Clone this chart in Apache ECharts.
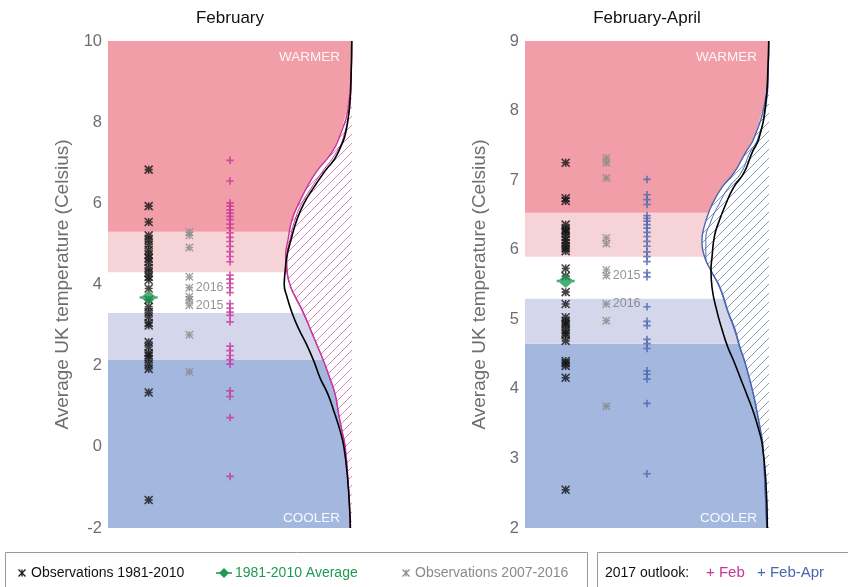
<!DOCTYPE html>
<html><head><meta charset="utf-8">
<script src="https://cdn.jsdelivr.net/npm/echarts@6/dist/echarts.min.js"></script>
<style>html,body{margin:0;padding:0;background:#fff}#c{width:848px;height:587px}</style>
</head><body><div id="c"></div>
<script>
// ---------- DATA ----------
const columns = ['', 'Observations 1981-2010', 'Observations 2007-2016', '2017 outlook', '', '', ''];
const obsYears = [2007, 2008, 2009, 2010, 2011, 2012, 2013, 2014, 2015, 2016];
const labelledYears = [2015, 2016];

// February
const febTicks = { min: -2, max: 10, interval: 2 };
const febBands = [-2, 2.15, 3.3, 4.3, 5.3, 10];
const febObs8110 = [6.83, 5.93, 5.54, 5.21, 5.10, 4.98, 4.85, 4.74, 4.65, 4.55, 4.41, 4.30, 4.19, 4.11, 3.90,
  3.62, 3.45, 3.32, 3.20, 3.05, 2.99, 2.58, 2.46, 2.31, 2.25, 2.17, 2.04, 1.92, 1.34, -1.31];
const febAverage = 3.68;
const febObs0716 = [4.91, 4.19, 3.70, 1.85, 5.21, 3.62, 2.76, 5.29, 3.49, 3.92];
const febOutlook = [7.06, 6.55, 6.01, 5.93, 5.84, 5.76, 5.68, 5.60, 5.49, 5.39, 5.27, 5.16, 5.06, 4.94, 4.81,
  4.69, 4.56, 4.23, 4.13, 4.03, 3.92, 3.80, 3.53, 3.42, 3.32, 3.24, 3.08, 2.48, 2.37, 2.25, 2.15, 2.04,
  1.38, 1.24, 0.72, -0.73];
// [temperature, density]
const febPdfClim = [[10,0.001],[9.0,0.004],[8.0,0.016],[7.2,0.055],[6.8,0.099],[6.4,0.140],[6.0,0.177],
  [5.6,0.203],[5.1,0.225],[4.7,0.240],[4.3,0.247],[4.0,0.250],[3.7,0.240],[3.3,0.221],[2.9,0.196],
  [2.5,0.166],[2.1,0.140],[1.7,0.118],[1.3,0.089],[0.8,0.063],[0.4,0.044],[0.0,0.030],[-0.8,0.016],
  [-1.6,0.008],[-2,0.006]];
const febPdfOutlook = [[10,0.001],[9.3,0.003],[8.45,0.012],[7.6,0.048],[7.2,0.080],[6.8,0.129],[6.4,0.166],
  [6.0,0.196],[5.6,0.221],[5.1,0.236],[4.7,0.245],[4.3,0.240],[3.9,0.224],[3.7,0.210],[3.3,0.180],
  [2.9,0.154],[2.5,0.129],[2.1,0.104],[1.7,0.082],[1.3,0.062],[0.8,0.049],[0.4,0.037],[0.0,0.025],
  [-0.8,0.015],[-2,0.006]];
const febPdfOutlook2 = [[10,0.001],[9.3,0.002],[8.45,0.008],[7.6,0.033],[7.2,0.063],[6.8,0.107],[6.4,0.148],
  [6.0,0.185],[5.6,0.210],[5.1,0.229],[4.7,0.240],[4.3,0.238],[3.9,0.224],[3.7,0.208],[3.3,0.178],
  [2.9,0.153],[2.5,0.128],[2.1,0.104],[1.7,0.083],[1.3,0.063],[0.8,0.049],[0.4,0.037],[0.0,0.026],
  [-0.8,0.015],[-2,0.006]];

// February-April
const aprTicks = { min: 2, max: 9, interval: 1 };
const aprBands = [2, 4.65, 5.3, 5.9, 6.53, 9];
const aprObs8110 = [7.25, 6.74, 6.70, 6.36, 6.30, 6.27, 6.24, 6.18, 6.14, 6.10, 6.05, 6.02, 5.98, 5.73, 5.62,
  5.39, 5.22, 5.03, 4.97, 4.94, 4.91, 4.84, 4.80, 4.77, 4.69, 4.40, 4.37, 4.33, 4.16, 2.55];
const aprAverage = 5.55;
const aprObs0716 = [7.32, 6.09, 6.17, 4.98, 7.25, 7.03, 3.75, 5.71, 5.63, 5.22];
const aprOutlook = [7.01, 6.79, 6.72, 6.65, 6.49, 6.45, 6.41, 6.36, 6.31, 6.25, 6.19, 6.12, 6.05, 5.97, 5.90,
  5.83, 5.67, 5.61, 5.18, 4.97, 4.91, 4.71, 4.65, 4.58, 4.26, 4.21, 4.14, 3.79, 2.78];
const aprPdfClim = [[9,0.001],[8.6,0.004],[8.1,0.012],[7.6,0.037],[7.4,0.062],[7.1,0.093],[6.9,0.130],
  [6.65,0.160],[6.4,0.185],[6.2,0.201],[5.9,0.210],[5.7,0.214],[5.45,0.210],[5.1,0.191],[4.85,0.173],
  [4.6,0.152],[4.4,0.130],[4.15,0.105],[3.9,0.080],[3.65,0.056],[3.4,0.037],[3.2,0.025],[2.7,0.012],[2,0.006]];
const aprPdfOutlook = [[9,0.001],[8.6,0.003],[8.1,0.016],[7.6,0.056],[7.4,0.086],[7.1,0.130],[6.9,0.173],
  [6.65,0.210],[6.4,0.234],[6.25,0.244],[6.15,0.247],[5.9,0.238],[5.7,0.214],[5.45,0.180],[5.1,0.150],
  [4.85,0.125],[4.6,0.107],[4.4,0.090],[4.15,0.072],[3.9,0.056],[3.65,0.043],[3.4,0.031],[3.2,0.023],
  [2.7,0.016],[2,0.008]];
const aprPdfOutlook2 = [[9,0.001],[8.6,0.002],[8.1,0.010],[7.6,0.041],[7.4,0.070],[7.1,0.104],[6.9,0.148],
  [6.65,0.185],[6.4,0.215],[6.15,0.233],[5.9,0.233],[5.7,0.214],[5.45,0.182],[5.1,0.152],[4.85,0.128],
  [4.6,0.109],[4.4,0.091],[4.15,0.073],[3.9,0.057],[3.65,0.044],[3.4,0.032],[3.2,0.023],[2.7,0.016],[2,0.008]];

const panelTitles = ['February', 'February-April'];
const yAxisName = 'Average UK temperature (Celsius)';
const legendTexts = ['Observations 1981-2010', '1981-2010 Average', 'Observations 2007-2016', '2017 outlook:', 'Feb', 'Feb-Apr'];

// ---------- STYLE ----------
const bandColors = ['#a3b7df', '#d4d7ec', '#ffffff', '#f6d3d6', '#f19ea8'];
const C_BLACK = '#151515', C_GREY = '#8a8a8a', C_GREEN = '#1f9a52', C_MAG = '#c8359b', C_BLUE = '#4a66b0';
const STAR = 'path://M0,0L10,10M10,0L0,10M5,0L5,10M0,5L10,5';
const PLUS = 'path://M5,0L5,10M0,5L10,5';
const DIAM = 'path://M8,0L15,7L8,14L1,7ZM0,5.8L16,5.8L16,8.2L0,8.2Z';
const F = 'Liberation Sans';

function hatch(color) {
  const s = 9;
  const c = document.createElement('canvas'); c.width = s; c.height = s;
  const g = c.getContext('2d');
  g.fillStyle = '#fff'; g.fillRect(0, 0, s, s);
  g.strokeStyle = color; g.lineWidth = 0.9;
  g.beginPath();
  g.moveTo(-1, s + 1); g.lineTo(s + 1, -1);
  g.moveTo(-s - 1, 1); g.lineTo(1, -s - 1);
  g.moveTo(s - 1, 2 * s + 1); g.lineTo(2 * s + 1, s - 1);
  g.stroke();
  return { image: c, repeat: 'repeat' };
}

const grids = [
  { left: 108, top: 41, width: 244, height: 487 },
  { left: 525, top: 41, width: 244, height: 487 }
];

function panelSeries(p, d) {
  const xc = 2 * p, xd = 2 * p + 1, yi = p;
  const bandData = [];
  for (let i = 0; i < bandColors.length; i++) {
    const a = { yAxis: d.bands[i], itemStyle: { color: bandColors[i], opacity: 1 } };
    if (i === bandColors.length - 1) {
      a.name = 'WARMER';
      a.label = { show: true, position: 'insideTopRight', distance: 0, padding: [9, 12, 0, 0], color: 'rgba(255,255,255,0.92)', fontSize: 13.5, fontFamily: F };
    } else if (i === 0) {
      a.name = 'COOLER';
      a.label = { show: true, position: 'insideBottomRight', distance: 0, padding: [0, 12, 3, 0], color: 'rgba(255,255,255,0.92)', fontSize: 13.5, fontFamily: F };
    }
    bandData.push([a, { yAxis: d.bands[i + 1] }]);
  }
  const pdfXY = arr => arr.map(q => [q[1], q[0]]);
  return [
    { type: 'scatter', xAxisIndex: xc, yAxisIndex: yi, data: [], silent: true,
      markArea: { silent: true, label: { show: false }, data: bandData } },
    { type: 'custom', xAxisIndex: xd, yAxisIndex: yi, z: 2, silent: true, data: [[0, d.pdfOut[0][0]]],
      renderItem: function (params, api) {
        const pts = d.pdfOut.map(q => api.coord([q[1], q[0]]));
        const top = api.coord([0, d.pdfOut[0][0]]);
        const bot = api.coord([0, d.pdfOut[d.pdfOut.length - 1][0]]);
        return { type: 'polygon', shape: { points: [top].concat(pts, [bot]) }, style: { fill: d.hatch, stroke: null } };
      } },
    { type: 'line', xAxisIndex: xd, yAxisIndex: yi, z: 3, silent: true, data: pdfXY(d.pdfOut2), smooth: true,
      showSymbol: false, lineStyle: { color: d.color, width: 1 } },
    { type: 'line', xAxisIndex: xd, yAxisIndex: yi, z: 3, silent: true, data: pdfXY(d.pdfOut), smooth: true,
      showSymbol: false, lineStyle: { color: d.color, width: 1.4 } },
    { type: 'line', xAxisIndex: xd, yAxisIndex: yi, z: 3, silent: true, data: pdfXY(d.pdfClim), smooth: true,
      showSymbol: false, lineStyle: { color: '#000', width: 1.6 } },
    { type: 'scatter', xAxisIndex: xc, yAxisIndex: yi, z: 4, silent: true, symbol: STAR, symbolSize: 8,
      itemStyle: { color: 'transparent', borderColor: C_BLACK, borderWidth: 1.6 },
      data: d.obs.map(v => [1, v]) },
    { type: 'scatter', xAxisIndex: xc, yAxisIndex: yi, z: 4, silent: true, symbol: STAR, symbolSize: 7.5,
      itemStyle: { color: 'transparent', borderColor: C_GREY, borderWidth: 1.3 },
      data: d.obsRecent.map((v, i) => ({
        value: [2, v],
        label: labelledYears.indexOf(obsYears[i]) >= 0
          ? { show: true, formatter: String(obsYears[i]), position: 'right', distance: 2, color: '#7a7a7a', fontSize: 12.5, fontFamily: F }
          : { show: false }
      })) },
    { type: 'scatter', xAxisIndex: xc, yAxisIndex: yi, z: 4, silent: true, symbol: PLUS, symbolSize: 7.5,
      itemStyle: { color: 'transparent', borderColor: d.color, borderWidth: 1.7 },
      data: d.outlook.map(v => [3, v]) },
    { type: 'scatter', xAxisIndex: xc, yAxisIndex: yi, z: 5, silent: true, symbol: DIAM, symbolSize: [18, 14],
      itemStyle: { color: C_GREEN },
      data: [[1, d.avg]] }
  ];
}

const panels = [
  { bands: febBands, obs: febObs8110, avg: febAverage, obsRecent: febObs0716, outlook: febOutlook,
    pdfClim: febPdfClim, pdfOut: febPdfOutlook, pdfOut2: febPdfOutlook2, color: C_MAG, hatch: hatch('#cf7db0'), ticks: febTicks },
  { bands: aprBands, obs: aprObs8110, avg: aprAverage, obsRecent: aprObs0716, outlook: aprOutlook,
    pdfClim: aprPdfClim, pdfOut: aprPdfOutlook, pdfOut2: aprPdfOutlook2, color: C_BLUE, hatch: hatch('#8592ad'), ticks: aprTicks }
];

const xAxes = [], yAxes = [];
let series = [];
panels.forEach((d, p) => {
  xAxes.push({ gridIndex: p, type: 'category', data: columns, boundaryGap: false, show: false });
  xAxes.push({ gridIndex: p, type: 'value', inverse: true, min: 0, max: 0.9, show: false });
  yAxes.push({ gridIndex: p, type: 'value', min: d.ticks.min, max: d.ticks.max, interval: d.ticks.interval,
    axisLine: { show: false }, axisTick: { show: false }, splitLine: { show: false },
    axisLabel: { color: '#6e6e6e', fontSize: 16.5, margin: 6, fontFamily: F },
    name: yAxisName, nameLocation: 'middle', nameRotate: 90, nameGap: 36,
    nameTextStyle: { color: '#6e6e6e', fontSize: 19, fontFamily: F } });
  series = series.concat(panelSeries(p, d));
});

function starMark(cx, cy, r, color, lw) {
  return [
    { type: 'line', shape: { x1: cx - r, y1: cy - r, x2: cx + r, y2: cy + r }, style: { stroke: color, lineWidth: lw } },
    { type: 'line', shape: { x1: cx + r, y1: cy - r, x2: cx - r, y2: cy + r }, style: { stroke: color, lineWidth: lw } },
    { type: 'line', shape: { x1: cx, y1: cy - r, x2: cx, y2: cy + r }, style: { stroke: color, lineWidth: lw } }
  ];
}

const ly = 573;
const LF = '14px ' + F;
let graphic = [
  { type: 'text', x: 230, y: 18, style: { text: panelTitles[0], fill: '#111', font: '17px ' + F, textAlign: 'center', textVerticalAlign: 'middle' } },
  { type: 'text', x: 647, y: 18, style: { text: panelTitles[1], fill: '#111', font: '17px ' + F, textAlign: 'center', textVerticalAlign: 'middle' } },
  { type: 'rect', shape: { x: 5.5, y: 552.5, width: 582, height: 60 }, style: { fill: 'none', stroke: '#9a9a9a', lineWidth: 1 } },
  { type: 'rect', shape: { x: 597.5, y: 552.5, width: 270, height: 60 }, style: { fill: 'none', stroke: '#9a9a9a', lineWidth: 1 } },
  { type: 'text', x: 31, y: ly, style: { text: legendTexts[0], fill: '#111', font: LF, textVerticalAlign: 'middle' } },
  { type: 'polygon', shape: { points: [[224, ly - 5], [229, ly], [224, ly + 5], [219, ly]] }, style: { fill: C_GREEN } },
  { type: 'rect', shape: { x: 216, y: ly - 0.8, width: 16, height: 1.6 }, style: { fill: C_GREEN } },
  { type: 'text', x: 235, y: ly, style: { text: legendTexts[1], fill: C_GREEN, font: LF, textVerticalAlign: 'middle' } },
  { type: 'text', x: 415, y: ly, style: { text: legendTexts[2], fill: '#8a8a8a', font: LF, textVerticalAlign: 'middle' } },
  { type: 'text', x: 605, y: ly, style: { text: legendTexts[3], fill: '#111', font: LF, textVerticalAlign: 'middle' } },
  { type: 'text', x: 706, y: ly, style: { text: '+ ' + legendTexts[4], fill: C_MAG, font: '15px ' + F, textVerticalAlign: 'middle' } },
  { type: 'text', x: 757, y: ly, style: { text: '+ ' + legendTexts[5], fill: C_BLUE, font: '15px ' + F, textVerticalAlign: 'middle' } }
];
graphic = graphic.concat(starMark(22, ly, 3.5, C_BLACK, 1.3), starMark(406, ly, 3.5, C_GREY, 1.2));

const chart = echarts.init(document.getElementById('c'), null, { renderer: 'canvas' });
chart.setOption({
  animation: false,
  backgroundColor: '#fff',
  grid: grids,
  xAxis: xAxes,
  yAxis: yAxes,
  series: series,
  graphic: graphic
});
</script>
</body></html>
